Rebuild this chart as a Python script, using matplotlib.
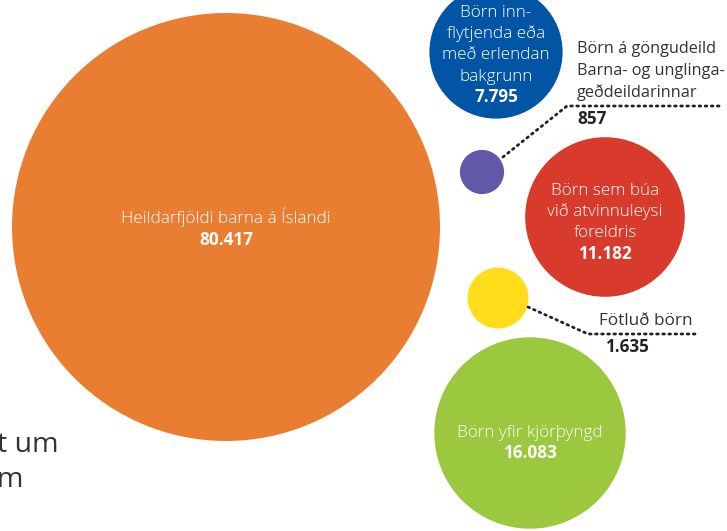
import matplotlib
matplotlib.use("Agg")
import matplotlib.pyplot as plt
from matplotlib.patches import Circle
import numpy as np

# ---- data ----
labels = ["Heildarfjöldi barna á Íslandi",
          "Börn inn-\nflytjenda eða\nmeð erlendan\nbakgrunn",
          "Börn á göngudeild\nBarna- og unglinga-\ngeðdeildarinnar",
          "Börn sem búa\nvið atvinnuleysi\nforeldris",
          "Fötluð börn",
          "Börn yfir kjörþyngd"]
values = [80417, 7795, 857, 11182, 1635, 16083]
value_text = ["80.417", "7.795", "857", "11.182", "1.635", "16.083"]
colors = ["#E97E32", "#0255A5", "#6059A8", "#D83A2B", "#FFDD1B", "#9BC83F"]

# ---- layout (pixel coordinates, y down) ----
centers = [(226, 227), (496, 52), (482, 172), (605, 217), (498, 298), (530, 433)]
scale = 214 / np.sqrt(80417)

fig = plt.figure(figsize=(7.27, 5.31), dpi=100)
ax = fig.add_axes([0, 0, 1, 1])
ax.set_xlim(0, 727)
ax.set_ylim(531, 0)
ax.set_aspect("equal")
ax.axis("off")

FONT = "Open Sans"
FS = 12.3
for (cx, cy), v, c in zip(centers, values, colors):
    ax.add_patch(Circle((cx, cy), scale * np.sqrt(v), color=c, lw=0))

def inside(i, first_baseline, step=21.2):
    cx, cy = centers[i]
    lines = labels[i].split("\n")
    for k, ln in enumerate(lines):
        ax.text(cx, first_baseline + k * step, ln, ha="center", va="baseline",
                color="white", fontsize=FS, family=FONT, fontweight="light")
    ax.text(cx, first_baseline + len(lines) * step, value_text[i], ha="center",
            va="baseline", color="white", fontsize=FS, family=FONT,
            fontweight="bold")

inside(0, 223, 22)
inside(1, 17)
inside(3, 195)
inside(5, 437, 20.5)

# annotation for purple
dot = dict(color="#222222", lw=2.0, ls=(0, (0.6, 1.6)), dash_capstyle="round")
ax.plot([503, 567, 722], [157, 106, 106], **dot)
for k, ln in enumerate(labels[2].split("\n")):
    ax.text(577, 53 + k * 22, ln, ha="left", va="baseline", color="#333333",
            fontsize=11.7, family=FONT)
ax.text(577, 124, value_text[2], ha="left", va="baseline", color="#222222",
        fontsize=FS, family=FONT, fontweight="bold")

# annotation for yellow
ax.plot([528, 588, 695], [307, 334, 334], **dot)
ax.text(693, 325, labels[4], ha="right", va="baseline", color="#333333",
        fontsize=FS, family=FONT)
ax.text(605, 352, value_text[4], ha="left", va="baseline", color="#222222",
        fontsize=FS, family=FONT, fontweight="bold")

# partially visible text at left
ax.text(-3, 452, "t um", ha="left", va="baseline", color="#333333",
        fontsize=20.5, family=FONT)
ax.text(-3, 487, "m", ha="left", va="baseline", color="#333333",
        fontsize=20.5, family=FONT)

fig.savefig("out.png", dpi=100)
